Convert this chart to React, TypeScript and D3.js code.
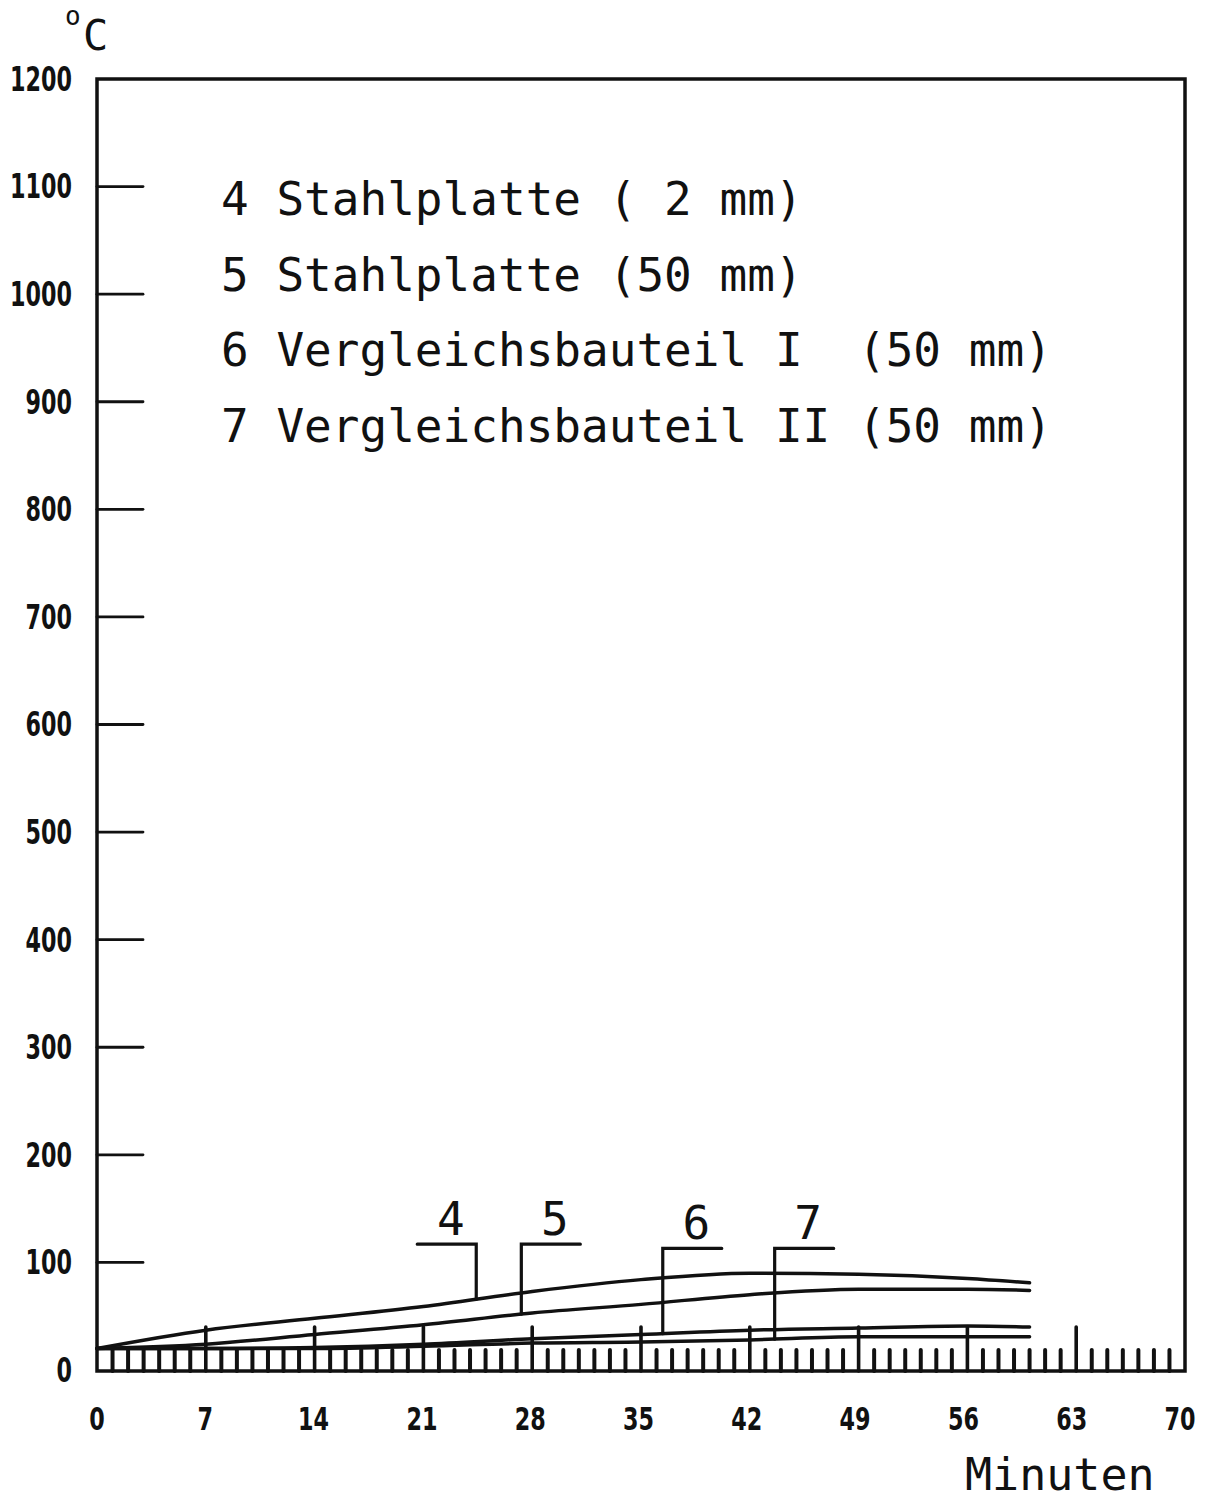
import React from "react";
import * as d3 from "d3";

const minutes = [0, 7, 14, 21, 28, 35, 42, 49, 56, 60];
const curve4 = [20, 37, 48, 59, 73, 84, 90, 89, 85, 81];
const curve5 = [20, 24, 33, 42, 53, 61, 70, 75, 75, 74];
const curve6 = [20, 20, 21, 24, 29, 33, 37, 39, 41, 40];
const curve7 = [20, 20, 20, 22, 25, 26, 28, 31, 31, 31];
const seriesIds = ["4", "5", "6", "7"];
const seriesValues = [curve4, curve5, curve6, curve7];

const legendLabels = [
  "4 Stahlplatte ( 2 mm)",
  "5 Stahlplatte (50 mm)",
  "6 Vergleichsbauteil I  (50 mm)",
  "7 Vergleichsbauteil II (50 mm)",
];

// leader annotations: series id, minute where the leader meets curve, top value, direction
const leaderIds = ["4", "5", "6", "7"];
const leaderMinutes = [24.4, 27.3, 36.4, 43.6];
const leaderTops = [117, 117, 113, 113];
const leaderDirs = [-1, 1, 1, 1];

const yTicks = [0, 100, 200, 300, 400, 500, 600, 700, 800, 900, 1000, 1100, 1200];
const xTicks = [0, 7, 14, 21, 28, 35, 42, 49, 56, 63, 70];

const W = 1209;
const H = 1501;

const x = d3.scaleLinear().domain([0, 70]).range([97, 1185]);
const y = d3.scaleLinear().domain([0, 1200]).range([1370, 79]);

const mono = "'DejaVu Sans Mono', 'Liberation Mono', monospace";
const numFont = "'DejaVu Sans', 'Liberation Sans', sans-serif";
const digitW = 15.5;

function valueAt(vals: number[], t: number) {
  const i = d3.bisectRight(minutes, t) - 1;
  const j = Math.min(i + 1, minutes.length - 1);
  if (i === j) return vals[i];
  const f = (t - minutes[i]) / (minutes[j] - minutes[i]);
  return vals[i] + f * (vals[j] - vals[i]);
}

export default function App() {
  const line = d3
    .line<[number, number]>()
    .x((d) => x(d[0]))
    .y((d) => y(d[1]))
    .curve(d3.curveMonotoneX);

  const minorTicks = d3.range(1, 70).filter((m) => m % 7 !== 0);
  const majorTicks = d3.range(7, 70, 7);
  const bottom = y(0) + 1;
  const stroke = "#111";

  return (
    <svg
      width={W}
      height={H}
      style={{ position: "absolute", left: 0, top: 0, display: "block", background: "#fff" }}
    >
      <rect x={0} y={0} width={W} height={H} fill="#fff" />
      {/* unit label */}
      <text x={65} y={25} fontFamily={mono} fontSize={26} fill={stroke}>o</text>
      <text x={83} y={50} fontFamily={mono} fontSize={42} fill={stroke}>C</text>

      {/* frame */}
      <rect
        x={x(0)}
        y={y(1200)}
        width={x(70) - x(0)}
        height={bottom - y(1200)}
        fill="none"
        stroke={stroke}
        strokeWidth={3.5}
      />

      {/* y ticks and labels */}
      {yTicks.map((v) => {
        const s = String(v);
        return (
          <g key={"y" + v}>
            {v > 0 && v < 1200 && (
              <line x1={x(0)} x2={x(0) + 46} y1={y(v)} y2={y(v)} stroke={stroke} strokeWidth={2.8} strokeLinecap="round" />
            )}
            <text
              x={72 - s.length * digitW}
              y={y(v)}
              dy="0.36em"
              fontFamily={numFont}
              fontWeight="bold"
              fontSize={33}
              textLength={s.length * digitW}
              lengthAdjust="spacingAndGlyphs"
              fill={stroke}
            >
              {s}
            </text>
          </g>
        );
      })}

      {/* x minor ticks */}
      {minorTicks.map((m) => (
        <line key={"mt" + m} x1={x(m)} x2={x(m)} y1={bottom} y2={bottom - 21} stroke={stroke} strokeWidth={4} strokeLinecap="round" />
      ))}
      {majorTicks.map((m) => (
        <line key={"Mt" + m} x1={x(m)} x2={x(m)} y1={bottom} y2={bottom - 44} stroke={stroke} strokeWidth={3.6} strokeLinecap="round" />
      ))}
      {xTicks.map((m) => {
        const s = String(m);
        const w = s.length * digitW;
        const cx = x(m) - (m / 70) * 5;
        return (
          <text
            key={"xl" + m}
            x={cx - w / 2}
            y={1418}
            dy="0.36em"
            fontFamily={numFont}
            fontWeight="bold"
            fontSize={32}
            textLength={w}
            lengthAdjust="spacingAndGlyphs"
            fill={stroke}
          >
            {s}
          </text>
        );
      })}

      {/* curves */}
      {seriesValues.map((vals, si) => (
        <path
          key={"c" + seriesIds[si]}
          d={line(minutes.map((t, i) => [t, vals[i]] as [number, number])) || ""}
          fill="none"
          stroke={stroke}
          strokeWidth={3.5}
          strokeLinecap="round"
        />
      ))}

      {/* leaders */}
      {leaderIds.map((id, li) => {
        const si = seriesIds.indexOf(id);
        const t = leaderMinutes[li];
        const xv = x(t);
        const yTop = y(leaderTops[li]);
        const yEnd = y(valueAt(seriesValues[si], t));
        const xh = xv + leaderDirs[li] * 59;
        const mid = (xv + xh) / 2 + 4;
        return (
          <g key={"l" + id}>
            <polyline
              points={`${xh},${yTop} ${xv},${yTop} ${xv},${yEnd}`}
              fill="none"
              stroke={stroke}
              strokeWidth={3.2}
              strokeLinecap="round"
            />
            <text x={mid} y={yTop - 9} textAnchor="middle" fontFamily={mono} fontSize={46} fill={stroke}>
              {id}
            </text>
          </g>
        );
      })}

      {/* legend */}
      {legendLabels.map((s, i) => (
        <text
          key={"lg" + i}
          x={221}
          y={215 + i * 75.7}
          fontFamily={mono}
          fontSize={46}
          fill={stroke}
          style={{ whiteSpace: "pre" }}
        >
          {s}
        </text>
      ))}

      {/* x axis title */}
      <text x={965} y={1490} fontFamily={mono} fontSize={45} fill={stroke}>
        Minuten
      </text>
    </svg>
  );
}
